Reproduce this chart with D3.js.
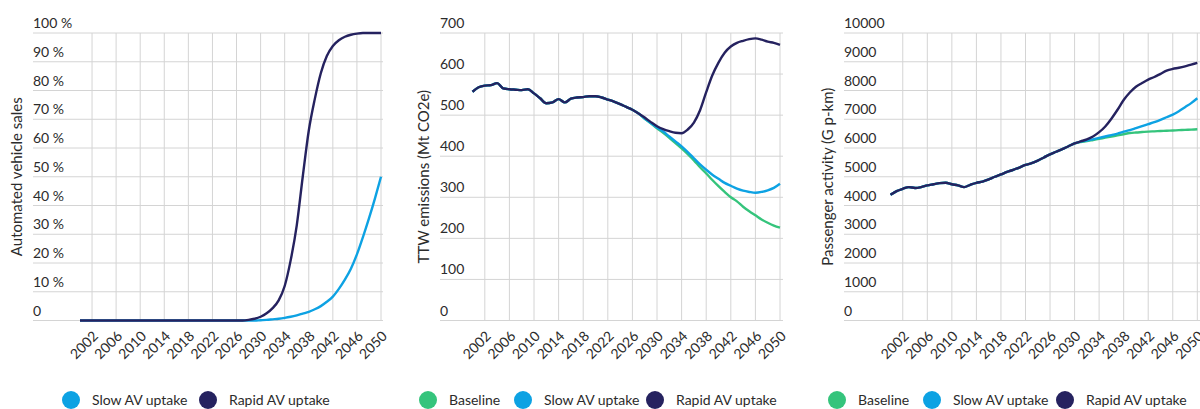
<!DOCTYPE html>
<html>
<head>
<meta charset="utf-8">
<script src="https://cdn.jsdelivr.net/npm/d3@7"></script>
<style>
  body { margin: 0; background: #fff; }
  svg { display: block; font-family: Lato, "Open Sans", sans-serif; }
  .grid line { stroke: #d4d4d4; stroke-width: 1; }
  text { fill: #2b2b2b; font-size: 14px; }
  text.ytitle { font-size: 15px; }
</style>
</head>
<body>
<div id="graph"></div>
<script>
var width = 1200, height = 409

var years = d3.range(2000, 2051)
var tickYears = d3.range(2002, 2051, 4)

var colors = {baseline: '#35c47c', slow: '#0da2e3', rapid: '#25225f'}

// automated vehicle sales, %
var salesSlow = [
  0,0,0,0,0,0,0,0,0,0, 0,0,0,0,0,0,0,0,0,0, 0,0,0,0,0,0,0,0,0,0,
  0.1,0.2,0.4,0.6,0.9,1.3,1.8,2.4,3.0,3.9, 5.0,6.5,8.3,11,14.2,18,23,29,35.5,42.5, 50]
var salesRapid = [
  0,0,0,0,0,0,0,0,0,0, 0,0,0,0,0,0,0,0,0,0, 0,0,0,0,0,0,0,0,0.2,0.6,
  1.3,2.5,4.3,7,12,21,33,50,66,77, 86,92,95.5,97.5,98.7,99.4,99.8,100,100,100, 100]

// TTW emissions, Mt CO2e
var emisBaseline = [
  557,568,572,573,578,565,563,562,561,563, 553,541,529,531,539,531,540,543,544,546,
  546,543,538,533,527,520,513,504,491,480, 468,457,445,432,419,405,390,373,358,342,
  327,313,300,290,277,266,256,246,238,231, 226]
var emisSlow = [
  557,568,572,573,578,565,563,562,561,563, 553,541,529,531,539,531,540,543,544,546,
  546,543,538,533,527,520,513,504,492,481, 470,460,448,436,424,410,395,380,367,355,
  345,335,328,321,316,313,311,313,317,323, 333]
var emisRapid = [
  557,568,572,573,578,565,563,562,561,563, 553,541,529,531,539,531,540,543,544,546,
  546,543,538,533,527,520,513,504,494,483, 473,466,461,457,456,465,482,512,556,597,
  628,652,667,676,681,685,687,684,679,676, 671]

// passenger activity, G p-km
var actBaseline = [
  4370,4500,4580,4640,4610,4640,4700,4740,4780,4790, 4740,4700,4640,4720,4790,4830,4910,5000,5080,5170,
  5240,5320,5410,5470,5560,5670,5780,5870,5960,6060, 6160,6210,6240,6280,6320,6360,6400,6440,6480,6520,
  6540,6555,6570,6580,6590,6600,6610,6620,6630,6640, 6650]
var actSlow = [
  4370,4500,4580,4640,4610,4640,4700,4740,4780,4790, 4740,4700,4640,4720,4790,4830,4910,5000,5080,5170,
  5240,5320,5410,5470,5560,5670,5780,5870,5960,6060, 6160,6220,6260,6300,6350,6400,6450,6500,6570,6620,
  6690,6760,6830,6900,6980,7070,7160,7280,7420,7560, 7730]
var actRapid = [
  4370,4500,4580,4640,4610,4640,4700,4740,4780,4790, 4740,4700,4640,4720,4790,4830,4910,5000,5080,5170,
  5240,5320,5410,5470,5560,5670,5780,5870,5960,6060, 6160,6230,6300,6400,6550,6750,7020,7330,7670,7930,
  8130,8260,8380,8470,8580,8690,8750,8790,8840,8900, 8960]

var panels = [
  {
    title: 'Automated vehicle sales', left: 33, right: 383, x0: 80, x1: 381, titleX: 17,
    max: 100, step: 10, fmt: d => d ? d + ' %' : '0',
    series: [{key: 'slow', values: salesSlow}, {key: 'rapid', values: salesRapid}],
    legend: [{key: 'slow', label: 'Slow AV uptake', cx: 71}, {key: 'rapid', label: 'Rapid AV uptake', cx: 208}]
  },
  {
    title: 'TTW emissions (Mt CO2e)', left: 440, right: 783, x0: 472.5, x1: 780, titleX: 424,
    max: 700, step: 100, fmt: d => d,
    series: [{key: 'baseline', values: emisBaseline}, {key: 'slow', values: emisSlow}, {key: 'rapid', values: emisRapid}],
    legend: [{key: 'baseline', label: 'Baseline', cx: 428}, {key: 'slow', label: 'Slow AV uptake', cx: 523}, {key: 'rapid', label: 'Rapid AV uptake', cx: 655}]
  },
  {
    title: 'Passenger activity (G p-km)', left: 844, right: 1205, x0: 890.5, x1: 1197.3, titleX: 828,
    max: 10000, step: 1000, fmt: d => d,
    series: [{key: 'baseline', values: actBaseline}, {key: 'slow', values: actSlow}, {key: 'rapid', values: actRapid}],
    legend: [{key: 'baseline', label: 'Baseline', cx: 837}, {key: 'slow', label: 'Slow AV uptake', cx: 932}, {key: 'rapid', label: 'Rapid AV uptake', cx: 1065}]
  }
]

var plotTop = 33, plotBottom = 320.5

var svg = d3.select('#graph').append('svg')
    .attr('width', width).attr('height', height)

panels.forEach(function(p){
  var x = d3.scaleLinear().domain([2000, 2050]).range([p.x0, p.x1])
  var y = d3.scaleLinear().domain([0, p.max]).range([plotBottom, plotTop])
  var g = svg.append('g')

  var grid = g.append('g').attr('class', 'grid')
  var yTicks = d3.range(0, p.max + 1, p.step)
  grid.selectAll('line.h').data(yTicks).enter().append('line')
      .attr('class', 'h')
      .attr('x1', p.left).attr('x2', p.right)
      .attr('y1', d => y(d)).attr('y2', d => y(d))
  grid.selectAll('line.v').data(tickYears).enter().append('line')
      .attr('class', 'v')
      .attr('x1', d => x(d)).attr('x2', d => x(d))
      .attr('y1', plotTop).attr('y2', plotBottom)

  g.selectAll('text.ylab').data(yTicks).enter().append('text')
      .attr('class', 'ylab')
      .attr('x', p.left).attr('y', d => y(d) - 5)
      .text(p.fmt)

  g.selectAll('text.xlab').data(tickYears).enter().append('text')
      .attr('class', 'xlab')
      .attr('text-anchor', 'end')
      .attr('transform', d => 'translate(' + (x(d) + 7) + ',' + 337 + ') rotate(-45)')
      .text(d => d)

  g.append('text')
      .attr('class', 'ytitle')
      .attr('text-anchor', 'middle')
      .attr('transform', 'translate(' + p.titleX + ',' + (plotTop + plotBottom) / 2 + ') rotate(-90)')
      .attr('dy', '0.35em')
      .text(p.title)

  var line = d3.line()
      .x((d, i) => x(years[i]))
      .y(d => y(d))
      .curve(d3.curveMonotoneX)

  p.series.forEach(function(s){
    g.append('path')
        .attr('d', line(s.values))
        .attr('fill', 'none')
        .attr('stroke', colors[s.key])
        .attr('stroke-width', 2.4)
        .attr('stroke-linejoin', 'round')
  })

  var leg = g.selectAll('g.leg').data(p.legend).enter().append('g')
      .attr('transform', d => 'translate(' + d.cx + ',400)')
  leg.append('circle').attr('r', 9).attr('fill', d => colors[d.key])
  leg.append('text').attr('x', 21).attr('dy', '0.35em').text(d => d.label)
})
</script>
</body>
</html>
